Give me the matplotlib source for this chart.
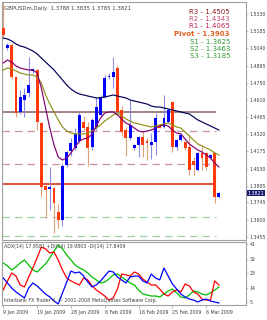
import matplotlib
matplotlib.use("Agg")
import matplotlib.pyplot as plt
import numpy as np

# ---------------- data ----------------
opens = [1.5212, 1.5044, 1.5069, 1.4800, 1.4506, 1.4607, 1.4666, 1.4851, 1.4859, 1.4413,
         1.3883, 1.3858, 1.3867, 1.3665, 1.3598, 1.4060, 1.4178, 1.4203, 1.4262, 1.4422,
         1.4380, 1.4211, 1.4380, 1.4481, 1.4632, 1.4800, 1.4800, 1.4876, 1.4523, 1.4354,
         1.4287, 1.4203, 1.4228, 1.4296, 1.4262, 1.4228, 1.4254, 1.4388, 1.4380, 1.4421,
         1.4590, 1.4211, 1.4270, 1.4254, 1.4211, 1.4090, 1.4018, 1.4161, 1.4161, 1.4119,
         1.4161, 1.3788]
highs = [1.5480, 1.5086, 1.5086, 1.4810, 1.4691, 1.4708, 1.4968, 1.4876, 1.4870, 1.4420,
         1.3892, 1.4043, 1.3875, 1.3732, 1.4077, 1.4180, 1.4287, 1.4371, 1.4506, 1.4472,
         1.4422, 1.4455, 1.4632, 1.4650, 1.4817, 1.4830, 1.4968, 1.4900, 1.4560, 1.4380,
         1.4607, 1.4240, 1.4300, 1.4338, 1.4290, 1.4329, 1.4497, 1.4400, 1.4649, 1.4530,
         1.4600, 1.4280, 1.4330, 1.4262, 1.4312, 1.4127, 1.4170, 1.4220, 1.4170, 1.4150,
         1.4170, 1.3835]
lows = [1.5140, 1.5027, 1.4780, 1.4464, 1.4489, 1.4464, 1.4632, 1.4834, 1.4354, 1.3791,
        1.3615, 1.3682, 1.3488, 1.3531, 1.3547, 1.4040, 1.4136, 1.4186, 1.4245, 1.4354,
        1.4052, 1.4186, 1.4354, 1.4464, 1.4620, 1.4780, 1.4708, 1.4480, 1.4300, 1.4136,
        1.4270, 1.4190, 1.4127, 1.4127, 1.4102, 1.4110, 1.4144, 1.4370, 1.4370, 1.4410,
        1.4169, 1.4190, 1.4260, 1.4190, 1.3976, 1.3976, 1.4010, 1.4018, 1.4020, 1.4110,
        1.3741, 1.3785]
closes = [1.5153, 1.5069, 1.4800, 1.4497, 1.4632, 1.4649, 1.4733, 1.4867, 1.4422, 1.3875,
          1.3850, 1.3875, 1.3741, 1.3598, 1.4052, 1.4169, 1.4245, 1.4321, 1.4481, 1.4371,
          1.4203, 1.4439, 1.4548, 1.4632, 1.4792, 1.4809, 1.4842, 1.4506, 1.4338, 1.4287,
          1.4397, 1.4228, 1.4296, 1.4228, 1.4245, 1.4254, 1.4455, 1.4371, 1.4455, 1.4523,
          1.4211, 1.4270, 1.4312, 1.4203, 1.4018, 1.4060, 1.4161, 1.4119, 1.4043, 1.4144,
          1.3788, 1.3821]

ma_slow = [1.5128, 1.5120, 1.5103, 1.5078, 1.5061, 1.5052, 1.5036, 1.5019, 1.4994, 1.4960,
           1.4926, 1.4893, 1.4859, 1.4817, 1.4775, 1.4733, 1.4699, 1.4674, 1.4657, 1.4649,
           1.4640, 1.4632, 1.4624, 1.4624, 1.4632, 1.4640, 1.4649, 1.4640, 1.4632, 1.4624,
           1.4607, 1.4598, 1.4590, 1.4581, 1.4573, 1.4556, 1.4548, 1.4548, 1.4539, 1.4531,
           1.4523, 1.4514, 1.4506, 1.4497, 1.4489, 1.4464, 1.4439, 1.4422, 1.4405, 1.4388,
           1.4371, 1.4354]
ma_fast = [1.4918, 1.4943, 1.4926, 1.4893, 1.4876, 1.4867, 1.4859, 1.4859, 1.4834, 1.4708,
           1.4539, 1.4371, 1.4228, 1.4127, 1.4102, 1.4119, 1.4161, 1.4211, 1.4262, 1.4279,
           1.4287, 1.4321, 1.4388, 1.4455, 1.4497, 1.4506, 1.4506, 1.4481, 1.4447, 1.4413,
           1.4397, 1.4371, 1.4346, 1.4338, 1.4346, 1.4354, 1.4371, 1.4388, 1.4397, 1.4388,
           1.4354, 1.4329, 1.4321, 1.4279, 1.4237, 1.4211, 1.4186, 1.4169, 1.4144, 1.4119,
           1.4077, 1.4043]
ma_mid = [1.4859, 1.4876, 1.4867, 1.4851, 1.4834, 1.4825, 1.4817, 1.4817, 1.4800, 1.4750,
          1.4649, 1.4573, 1.4506, 1.4439, 1.4380, 1.4346, 1.4329, 1.4321, 1.4321, 1.4321,
          1.4329, 1.4346, 1.4371, 1.4397, 1.4430, 1.4455, 1.4481, 1.4497, 1.4472, 1.4447,
          1.4430, 1.4413, 1.4405, 1.4397, 1.4388, 1.4380, 1.4388, 1.4397, 1.4405, 1.4413,
          1.4397, 1.4380, 1.4371, 1.4338, 1.4304, 1.4270, 1.4237, 1.4220, 1.4203, 1.4186,
          1.4161, 1.4144]

adx_blue = [20.0, 16.9, 13.8, 11.4, 9.5, 7.7, 13.8, 16.9, 15.1, 12.6,
            10.1, 8.3, 5.8, 4.0, 10.8, 17.5, 24.3, 23.1, 23.7, 21.2,
            17.5, 14.5, 15.7, 18.2, 21.2, 24.3, 23.7, 20.6, 18.8, 16.9,
            20.6, 21.2, 21.2, 18.2, 16.9, 22.5, 20.0, 18.8, 26.2, 21.2,
            16.3, 13.2, 10.1, 8.3, 7.0, 6.4, 5.2, 6.4, 7.0, 5.8,
            5.2, 4.6]
adx_red = [12.6, 18.2, 23.1, 21.2, 15.7, 14.5, 20.6, 26.2, 32.4, 39.1,
           37.9, 35.4, 36.1, 31.1, 25.0, 20.0, 18.2, 16.9, 15.7, 20.0,
           18.8, 15.1, 12.6, 10.8, 8.9, 6.4, 7.7, 13.2, 22.5, 21.9,
           21.2, 23.7, 22.5, 19.4, 17.5, 15.7, 15.7, 13.2, 10.1, 8.9,
           11.4, 12.6, 11.4, 16.3, 15.1, 11.4, 10.1, 7.0, 6.4, 6.4,
           18.2, 15.7]
adx_green = [29.3, 27.4, 25.0, 26.8, 29.3, 31.1, 28.0, 25.0, 23.7, 26.2,
             28.7, 32.4, 36.7, 40.4, 37.9, 34.2, 31.1, 28.0, 26.2, 25.0,
             23.1, 20.6, 18.8, 16.9, 17.5, 19.4, 21.9, 22.5, 20.6, 18.8,
             16.9, 15.7, 12.6, 10.1, 9.5, 8.9, 8.9, 8.3, 10.1, 12.0,
             13.2, 10.8, 8.3, 7.7, 9.5, 12.0, 11.4, 10.1, 9.5, 10.8,
             12.6, 14.5]

pivot_names = ["R3", "R2", "R1", "Pivot", "S1", "S2", "S3"]
pivot_values = [1.4505, 1.4343, 1.4065, 1.3903, 1.3625, 1.3463, 1.3185]

price_ticks = [1.5330, 1.5185, 1.5040, 1.4895, 1.4750, 1.4610, 1.4465, 1.4320,
               1.4175, 1.4030, 1.3885, 1.3745, 1.3600, 1.3455]
adx_ticks = [41, 32, 23, 14, 5]
date_tick_idx = [0, 8, 16, 24, 32, 40, 48]
date_labels = ["9 Jan 2009", "19 Jan 2009", "28 Jan 2009", "6 Feb 2009",
               "16 Feb 2009", "25 Feb 2009", "6 Mar 2009"]

# ---------------- figure ----------------
W, H = 267, 320
fig = plt.figure(figsize=(W / 100, H / 100), dpi=100)
fig.patch.set_facecolor("white")
plt.rcParams['font.family'] = ['DejaVu Sans']

def fx(px):
    return px / W

def fy(py):
    return 1 - py / H

ax = fig.add_axes([fx(2), fy(240), fx(244), (240 - 2) / H])
ax2 = fig.add_axes([fx(2), fy(305), fx(244), (305 - 242) / H])

n = len(opens)
idx = np.arange(n)
xlim = (-0.3, 57.4)

spine_col = "#a0a0a0"
txt_col = "#404040"
tick_fs = 3.4

# candles
up_col, dn_col = "#0000ff", "#ff3a0a"
up_wick, dn_wick = "#8c8ce6", "#e0a078"
for i in range(n):
    o, h, l, c = opens[i], highs[i], lows[i], closes[i]
    up = c >= o
    ax.vlines(i, l, h, color=up_wick if up else dn_wick, lw=0.8, zorder=2)
    body = max(abs(c - o), 0.0006)
    ax.bar(i, body, bottom=min(o, c), width=0.68,
           color=up_col if up else dn_col, edgecolor='none', zorder=3)

# moving averages
ax.plot(idx, ma_slow, color="#00005a", lw=0.85, zorder=4)
ax.plot(idx, ma_mid, color="#8f8f1a", lw=0.85, zorder=4)
ax.plot(idx, ma_fast, color="#800070", lw=0.85, zorder=4)

# pivot lines
line_styles = {
    "R3": dict(color="#a08080", ls="-", lw=1.4),
    "R2": dict(color="#c890a0", ls=(0, (6, 4)), lw=0.9),
    "R1": dict(color="#c890a0", ls=(0, (6, 4)), lw=0.9),
    "Pivot": dict(color="#d42000", ls="-", lw=1.1),
    "S1": dict(color="#a0d0a0", ls=(0, (6, 4)), lw=0.9),
    "S2": dict(color="#a0d0a0", ls=(0, (6, 4)), lw=0.9),
    "S3": dict(color="#a0d0a0", ls=(0, (6, 4)), lw=0.9),
}
for name, val in zip(pivot_names, pivot_values):
    ax.hlines(val, xlim[0], 50.4, zorder=1, **line_styles[name])

text_cols = {"R3": "#8b1a1a", "R2": "#c05070", "R1": "#c02050", "Pivot": "#e06020",
             "S1": "#339933", "S2": "#339933", "S3": "#339933"}
for k, (name, val) in enumerate(zip(pivot_names, pivot_values)):
    ax.text((230 - 2) / 244, 1 - (11.5 + k * 7.5 - 2) / 238,
            f"{name} - {val:.4f}", transform=ax.transAxes, ha='right', va='center',
            fontsize=5.0, color=text_cols[name], fontweight='bold' if name == "Pivot" else 'normal')

ax.text(0.008, 0.985, "GBPUSDm,Daily  1.3788 1.3835 1.3785 1.3821", transform=ax.transAxes,
        ha='left', va='top', fontsize=3.9, color=txt_col)

ax.set_xlim(*xlim)
ax.set_ylim(1.3429, 1.5431)
ax.yaxis.tick_right()
ax.set_yticks(price_ticks)
ax.set_yticklabels([f"{t:.4f}" for t in price_ticks])
ax.tick_params(axis='y', labelsize=tick_fs, colors=txt_col, length=1.5, width=0.5, pad=1,
               color=spine_col)
ax.set_xticks([])
for s in ax.spines.values():
    s.set_color(spine_col)
    s.set_linewidth(0.8)

# current price tag
ax.text(1.008, (1.3821 - 1.3429) / (1.5431 - 1.3429), "1.3821", transform=ax.transAxes,
        ha='left', va='center', fontsize=tick_fs, color='white',
        bbox=dict(boxstyle='square,pad=0.12', fc='#1a1a6e', ec='none'))

# ADX panel
ax2.plot(idx, adx_green, color="#00c000", lw=0.9)
ax2.plot(idx, adx_red, color="#ff0000", lw=0.9)
ax2.plot(idx, adx_blue, color="#0000ff", lw=0.9)
ax2.set_xlim(*xlim)
ax2.set_ylim(3.35, 42.2)
ax2.yaxis.tick_right()
ax2.set_yticks(adx_ticks)
ax2.set_yticklabels([str(t) for t in adx_ticks])
ax2.tick_params(axis='y', labelsize=tick_fs, colors=txt_col, length=1.5, width=0.5, pad=1,
                color=spine_col)
ax2.set_xticks(date_tick_idx)
ax2.set_xticklabels(date_labels, ha='left')
ax2.tick_params(axis='x', labelsize=tick_fs, colors=txt_col, length=2.5, width=0.5, pad=1.2,
                color=spine_col)
for s in ax2.spines.values():
    s.set_color(spine_col)
    s.set_linewidth(0.8)

ax2.text(0.008, 0.97, "ADX(14) 17.9581 +DI(14) 19.9803 -DI(14) 17.8409", transform=ax2.transAxes,
         ha='left', va='top', fontsize=tick_fs, color=txt_col)
ax2.text(0.008, 0.03, "Interbank FX Trader 4, \u00a9 2001-2008 MetaQuotes Software Corp.",
         transform=ax2.transAxes, ha='left', va='bottom', fontsize=tick_fs, color=txt_col)

fig.savefig("out.png", dpi=100, facecolor='white')
